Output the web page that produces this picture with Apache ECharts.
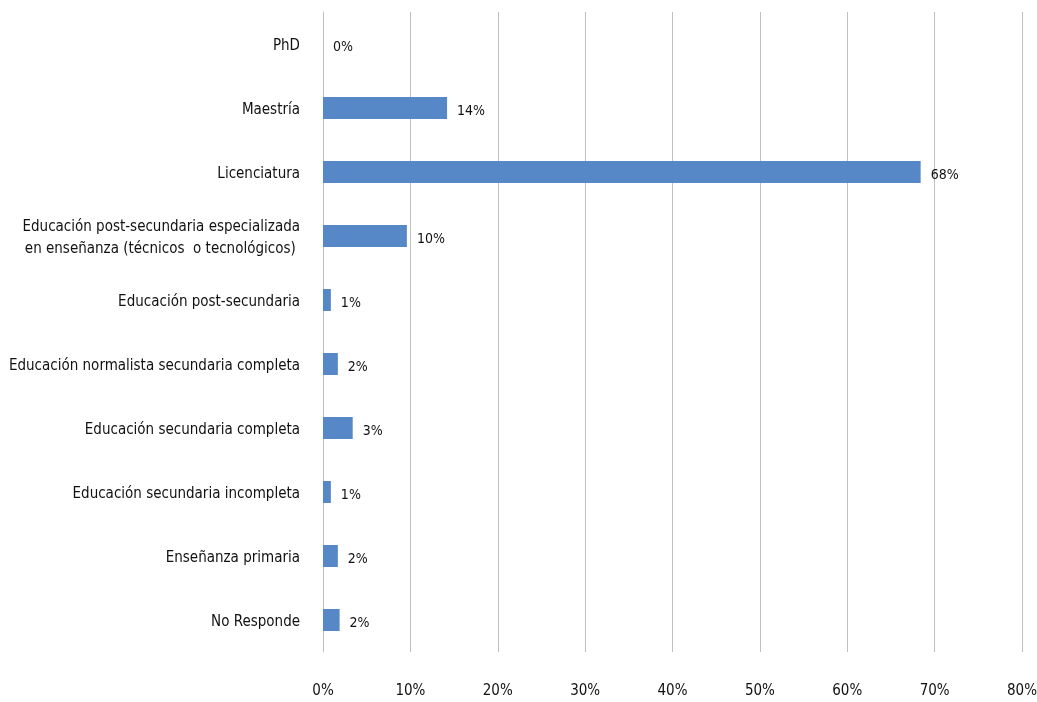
<!DOCTYPE html>
<html>
<head>
<meta charset="utf-8">
<style>
  html, body { margin: 0; padding: 0; background: #fff; }
  #chart { width: 1037px; height: 702px; }
</style>
<script src="https://cdn.jsdelivr.net/npm/echarts@6/dist/echarts.min.js"></script>
</head>
<body>
<div id="chart"></div>
<script>
// Nivel educativo alcanzado (porcentaje de respuestas)
const categories = [
  'PhD',
  'Maestría',
  'Licenciatura',
  'Educación post-secundaria especializada\nen enseñanza (técnicos  o tecnológicos) ',
  'Educación post-secundaria',
  'Educación normalista secundaria completa',
  'Educación secundaria completa',
  'Educación secundaria incompleta',
  'Enseñanza primaria',
  'No Responde'
];
const values = [0, 14.2, 68.4, 9.6, 0.9, 1.7, 3.4, 0.9, 1.7, 1.9];
const axisMax = 80;
const axisStep = 10;

const FONT = '"DejaVu Sans Condensed", "Liberation Sans", sans-serif';

const chart = echarts.init(document.getElementById('chart'), null, { renderer: 'canvas' });
chart.setOption({
  animation: false,
  backgroundColor: '#ffffff',
  grid: {
    left: 323, right: 15, top: 12, bottom: 50,
    containLabel: false,
    outerBoundsMode: 'none'
  },
  xAxis: {
    type: 'value',
    min: 0,
    max: axisMax,
    interval: axisStep,
    axisLine: { show: false },
    axisTick: { show: false },
    splitLine: { show: true, lineStyle: { color: '#c0c0c0', width: 1 } },
    axisLabel: {
      margin: 32,
      formatter: v => v + '%',
      color: '#111111',
      fontFamily: FONT,
      fontSize: 15
    }
  },
  yAxis: {
    type: 'category',
    inverse: true,
    data: categories,
    axisLine: { show: true, lineStyle: { color: '#c0c0c0', width: 1 } },
    axisTick: { show: false },
    axisLabel: {
      margin: 23,
      align: 'right',
      // each line sits slightly below the bar centre
      formatter: v => v.split('\n').map(line => '{t|' + line + '}').join('\n'),
      rich: {
        t: {
          color: '#111111',
          fontFamily: FONT,
          fontSize: 15,
          lineHeight: 22,
          padding: [5, 0, 0, 0]
        }
      }
    }
  },
  series: [{
    type: 'bar',
    data: values,
    barWidth: 22,
    itemStyle: { color: '#5687c6' },
    label: {
      show: true,
      position: 'right',
      distance: 10,
      offset: [0, 3],
      formatter: p => Math.round(p.value) + '%',
      color: '#111111',
      fontFamily: FONT,
      fontSize: 14
    }
  }]
});
</script>
</body>
</html>
